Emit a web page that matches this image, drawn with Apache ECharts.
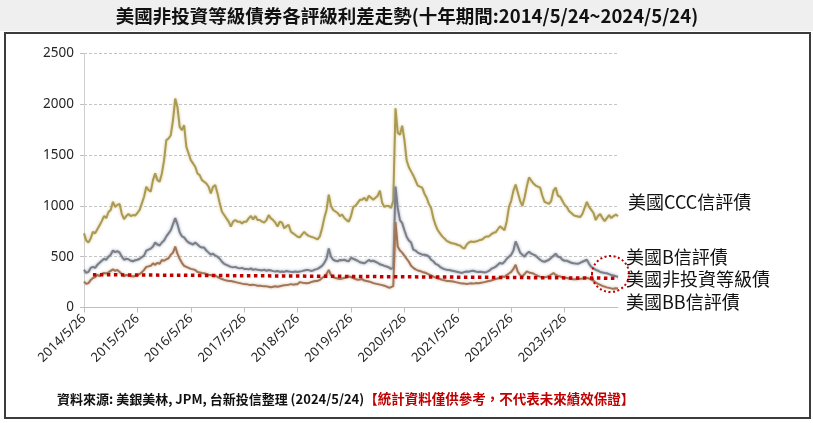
<!DOCTYPE html>
<html><head><meta charset="utf-8">
<script src="https://cdn.jsdelivr.net/npm/echarts@6/dist/echarts.min.js"></script>
<style>html,body{margin:0;padding:0;background:#fff}#c{width:813px;height:423px}</style>
</head><body><div id="c"></div>
<script>
// Year tick labels on the x axis
const tickLabels = ['2014/5/26','2015/5/26','2016/5/26','2017/5/26','2018/5/26','2019/5/26','2020/5/26','2021/5/26','2022/5/26','2023/5/26'];
// Semi-monthly observation dates (26th and 11th), last point 2024/5/24
const categories = [];
(function(){
  const base = 2014*12 + 4;
  for (let k = 0; k < 240; k++) {
    const mi = k % 2 === 0 ? base + k/2 : base + (k+1)/2;
    const y = Math.floor(mi/12), m = mi % 12 + 1;
    categories.push(y + '/' + m + '/' + (k % 2 === 0 ? 26 : 11));
  }
  categories.push('2024/5/24');
})();

// US CCC spread (bps)
const cccSpread = [
 730,660,640,680,745,730,770,810,850,900,880,940,960,1040,990,1010,1020,920,870,900,920,900,910,905,930,
 960,1025,1090,1188,1156,1140,1254,1320,1254,1238,1320,1450,1647,1663,1696,1843,2056,1974,1778,1745,1794,1581,1516,1450,
 1418,1385,1319,1303,1254,1238,1221,1188,1123,1188,1205,1123,1025,943,910,877,845,796,845,861,845,845,828,845,
 845,877,900,868,900,861,861,845,835,861,910,877,861,835,796,845,835,779,800,812,746,730,713,697,
 690,720,745,720,705,697,690,681,670,700,780,880,960,1110,1000,960,945,930,900,915,880,860,845,900,
 990,1000,1030,1060,1060,1080,1050,1100,1080,1060,1080,1100,1150,1030,990,1000,1000,980,1050,1960,1720,1700,1790,1650,
 1450,1380,1340,1300,1250,1200,1190,1180,1120,1080,1020,980,880,810,760,730,700,680,655,645,635,630,625,615,
 610,590,580,620,640,650,645,650,655,665,670,690,700,700,720,735,740,770,800,780,760,850,990,1050,
 1150,1210,1130,1050,1000,1080,1190,1280,
 1250,1220,1200,1190,1180,1100,1040,1030,1020,1050,1150,1180,1100,1090,1050,1010,990,950,930,910,
 900,895,890,920,980,1040,990,960,930,860,900,920,880,850,880,910,880,900,915,900
];
// US B spread (bps)
const bSpread = [
 370,340,350,390,400,390,420,440,460,480,470,500,520,560,545,555,540,500,470,480,475,460,455,465,470,
 480,495,510,560,570,580,600,640,620,610,640,660,700,730,760,820,880,820,740,700,690,660,640,630,
 620,640,620,600,590,590,560,540,520,530,510,500,480,450,430,420,410,400,395,400,390,385,390,380,
 380,375,385,370,378,372,370,365,372,360,370,365,358,355,360,350,355,350,360,355,352,350,355,350,
 354,358,365,370,368,360,365,375,380,395,410,440,480,580,500,470,460,455,468,465,470,460,455,490,
 480,470,460,445,440,435,450,468,455,460,450,440,425,419,410,403,395,380,390,1190,980,860,830,760,
 697,660,640,570,560,540,530,520,520,515,500,470,455,430,420,400,386,378,372,370,365,360,355,350,
 345,340,350,355,352,360,362,355,350,352,350,345,350,360,380,390,400,420,440,430,450,480,500,520,
 560,650,600,540,520,500,530,550,530,520,510,490,470,455,450,460,470,490,510,530,500,495,470,460,
 460,450,440,435,432,430,440,450,460,470,430,400,386,370,362,350,345,340,337,328,320,315,308,303
];
// US BB spread (bps)
const bbSpread = [
 255,232,240,270,290,300,320,310,330,340,335,345,360,375,360,370,350,330,310,320,315,310,305,310,315,
 330,345,370,400,405,410,435,420,440,430,468,460,475,485,520,540,600,530,480,440,410,400,390,380,
 375,370,350,345,340,337,330,320,320,310,315,300,290,280,272,265,262,260,255,250,245,240,235,232,
 230,225,222,225,220,215,215,212,210,208,205,200,205,210,205,210,215,220,222,225,230,225,228,230,
 250,245,240,238,240,250,255,260,262,272,290,305,330,370,320,300,290,285,280,285,290,300,305,300,
 290,280,272,275,280,265,260,255,250,240,235,230,225,220,215,205,195,200,210,840,600,560,540,510,
 480,450,410,390,375,365,360,350,345,337,325,315,304,295,285,280,272,268,262,260,258,255,250,245,
 240,235,235,232,235,238,235,240,238,242,245,250,255,260,265,272,280,285,295,305,300,320,335,350,
 380,420,350,320,305,330,355,345,340,335,320,310,304,300,298,300,310,325,340,320,310,305,298,295,
 290,285,280,278,278,280,282,285,290,290,285,275,262,245,232,222,212,205,198,193,188,185,190,188
];
// US high-yield (non-investment grade) reference line, start and end
const hyDates = ['2014/7/26', '2024/5/24'];
const hyValues = [323, 288];

const seriesNames = ['美國CCC信評債', '美國B信評債', '美國非投資等級債', '美國BB信評債'];
const titleText = '美國非投資等級債券各評級利差走勢(十年期間:2014/5/24~2024/5/24)';
const sourceText = '資料來源: 美銀美林, JPM, 台新投信整理 (2024/5/24)';
const noteText = '【統計資料僅供參考，不代表未來績效保證】';

const tickSet = new Set(tickLabels);
const FONT = '"Noto Sans CJK TC", "Noto Sans", sans-serif';
const chart = echarts.init(document.getElementById('c'), null, {renderer: 'canvas'});

function lineSeries(name, data, color, halo) {
  return {
    name, type: 'line', data, symbol: 'none', smooth: false, animation: false,
    lineStyle: {color, width: 2, shadowColor: halo, shadowBlur: 3},
    z: 2
  };
}

chart.setOption({
  backgroundColor: '#fff',
  animation: false,
  grid: {left: 84, right: 195, top: 53.5, bottom: 115.5, containLabel: false},
  xAxis: {
    type: 'category', data: categories, boundaryGap: false,
    axisLine: {lineStyle: {color: '#bfbfbf', width: 1}},
    axisTick: {show: true, length: 5, interval: (i, v) => tickSet.has(v), lineStyle: {color: '#bfbfbf'}},
    axisLabel: {interval: (i, v) => tickSet.has(v), rotate: 45, margin: 9,
      fontFamily: '"Noto Sans", sans-serif', fontSize: 13, color: '#262626'},
    splitLine: {show: false}
  },
  yAxis: {
    type: 'value', min: 0, max: 2500, interval: 500,
    axisLine: {show: true, lineStyle: {color: '#d0d0d0'}},
    axisTick: {show: true, length: 4, lineStyle: {color: '#bfbfbf'}},
    axisLabel: {formatter: v => String(v), fontFamily: '"Noto Sans", sans-serif', fontSize: 13.5, color: '#262626', margin: 10},
    splitLine: {lineStyle: {color: '#c4c4c4', type: [3, 2], width: 1}}
  },
  series: [
    lineSeries(seriesNames[0], cccSpread, '#ab9a52', 'rgba(200,185,120,0.8)'),
    lineSeries(seriesNames[1], bSpread, '#7d7f82', 'rgba(120,140,175,0.8)'),
    lineSeries(seriesNames[3], bbSpread, '#a07558', 'rgba(195,160,130,0.8)'),
    {
      name: seriesNames[2], type: 'line', symbol: 'none', animation: false, z: 3,
      data: hyDates.map((d, i) => [d, hyValues[i]]),
      lineStyle: {color: '#c00000', width: 3.5, type: [3.5, 3.5], cap: 'butt'}
    }
  ],
  graphic: [
    {type: 'rect', left: 0, top: 0, shape: {width: 813, height: 31}, style: {fill: '#efefef'}, z: 0},
    {type: 'text', x: 407, y: 16, style: {text: titleText, fontFamily: FONT, fontSize: 18.5, fontWeight: 'bold',
      fill: '#111', align: 'center', verticalAlign: 'middle'}},
    {type: 'rect', shape: {x: 5, y: 33, width: 805, height: 385}, style: {fill: 'none', stroke: '#3c3c3c', lineWidth: 2}},
    {type: 'text', x: 628, y: 202, style: {text: seriesNames[0], fontFamily: FONT, fontSize: 18, fill: '#111', verticalAlign: 'middle'}},
    {type: 'text', x: 626, y: 257, style: {text: seriesNames[1], fontFamily: FONT, fontSize: 18, fill: '#111', verticalAlign: 'middle'}},
    {type: 'text', x: 626, y: 279, style: {text: seriesNames[2], fontFamily: FONT, fontSize: 18, fill: '#111', verticalAlign: 'middle'}},
    {type: 'text', x: 626, y: 302, style: {text: seriesNames[3], fontFamily: FONT, fontSize: 18, fill: '#111', verticalAlign: 'middle'}},
    {type: 'ellipse', shape: {cx: 610.5, cy: 274, rx: 18.5, ry: 18}, style: {fill: 'none', stroke: '#c00000', lineWidth: 2, lineDash: [2, 2.5]}, z: 10},
    {type: 'text', x: 57, y: 399, style: {
      text: '{a|' + sourceText + '}{b|' + noteText + '}',
      verticalAlign: 'middle',
      rich: {
        a: {fontFamily: FONT, fontSize: 13, fontWeight: 'bold', fill: '#111'},
        b: {fontFamily: FONT, fontSize: 13.5, fontWeight: 'bold', fill: '#c00000'}
      }}}
  ]
});
</script></body></html>
